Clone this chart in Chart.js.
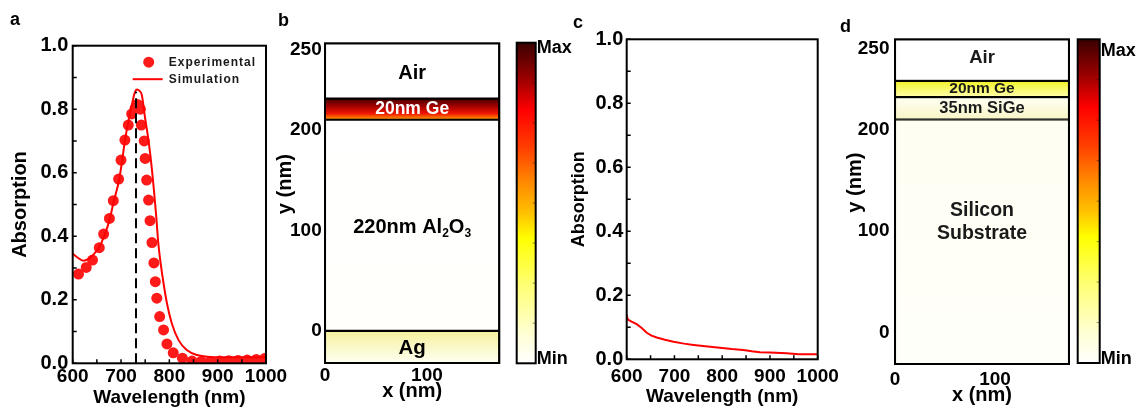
<!DOCTYPE html>
<html>
<head>
<meta charset="utf-8">
<script src="https://cdn.jsdelivr.net/npm/chart.js@4.4.1/dist/chart.umd.min.js"></script>
<style>
  html, body { margin: 0; padding: 0; background: #fff; }
  #fig { position: relative; width: 1145px; height: 409px; overflow: hidden; font-family: "Liberation Sans", Arial, sans-serif; }
  #fig canvas { position: absolute; top: 0; }
  .tag { position: absolute; font-weight: bold; font-size: 18px; line-height: 1; color: #000; }
</style>
</head>
<body>
<div id="fig">
  <canvas id="pa" width="300" height="409" style="left:0px"></canvas>
  <canvas id="pc" width="305" height="409" style="left:555px"></canvas>
  <canvas id="pb" width="310" height="409" style="left:270px"></canvas>
  <canvas id="pd" width="305" height="409" style="left:840px"></canvas>
  <div class="tag" style="left:10px;top:10px">a</div>
  <div class="tag" style="left:278px;top:11px">b</div>
  <div class="tag" style="left:573px;top:13px">c</div>
  <div class="tag" style="left:840px;top:17px">d</div>
</div>
<script>
const FONT = '"Liberation Sans", Arial, sans-serif';

// panel a - measured absorption (dots)
const expWl  = [612, 628, 641, 655, 664, 676, 684, 695, 700, 708, 715, 722, 729, 734, 740, 742, 748, 750, 753, 757, 760, 764, 768, 771, 774, 780, 788, 795, 808, 827, 847, 866, 885, 904, 923, 942, 961, 980, 997];
const expAbs = [0.281, 0.302, 0.325, 0.364, 0.407, 0.456, 0.512, 0.58, 0.64, 0.703, 0.75, 0.785, 0.803, 0.815, 0.80, 0.75, 0.70, 0.645, 0.577, 0.514, 0.449, 0.38, 0.316, 0.257, 0.205, 0.147, 0.105, 0.061, 0.033, 0.016, 0.007, 0.006, 0.006, 0.007, 0.008, 0.009, 0.010, 0.012, 0.015];

// panel a - simulated absorption (line)
const simWl  = [600, 610, 622, 632, 643, 655, 665, 676, 685, 696, 702, 708, 715, 722, 728, 733, 738, 743, 750, 757, 764, 769, 773, 777, 782, 788, 795, 805, 819, 836, 857, 878, 912, 950, 1000];
const simAbs = [0.345, 0.333, 0.323, 0.328, 0.342, 0.366, 0.40, 0.45, 0.51, 0.577, 0.635, 0.70, 0.76, 0.81, 0.85, 0.862, 0.858, 0.845, 0.77, 0.70, 0.61, 0.53, 0.46, 0.38, 0.315, 0.252, 0.189, 0.126, 0.073, 0.042, 0.026, 0.021, 0.019, 0.019, 0.019];

// resonance marker
const peakWl = 731;
const peakAbs = 0.855;

// panel c - absorption without the cavity
const refWl  = [600, 602, 610, 621, 632, 642, 652, 663, 680, 698, 720, 740, 770, 795, 820, 844, 862, 879, 900, 935, 960, 1000];
const refAbs = [0.139, 0.125, 0.118, 0.11, 0.097, 0.083, 0.074, 0.068, 0.061, 0.055, 0.049, 0.045, 0.04, 0.036, 0.032, 0.029, 0.025, 0.022, 0.021, 0.019, 0.016, 0.016];

// panel b - layer stack (nm)
const stackB   = ['Ag', '220nm Al_2O_3', '20nm Ge', 'Air'];
const stackBLo = [-32, 0, 210, 231];
const stackBHi = [0, 210, 231, 286];
const xMaxB = 171;

// panel d - layer stack (nm)
const stackD   = ['Silicon\nSubstrate', '35nm SiGe', '20nm Ge', 'Air'];
const stackDLo = [-31, 210, 232, 248];
const stackDHi = [210, 232, 248, 289];
const xMaxD = 174;

// ticks of the field maps, as printed
const mapXTicks     = [0, 100];
const mapTickVals   = [0, 100, 200, 280];
const mapTickLabels = ['0', '100', '200', '250'];

// colours
const fillsB = [
  [[0, '#f5f19c'], [1, '#fffff2']],
  [[0, '#ffffff'], [1, '#fffffb']],
  [[0, '#440000'], [0.35, '#a00000'], [0.7, '#f01400'], [1, '#ffa000']],
  [[0, '#ffffff'], [1, '#ffffff']]
];
const fillsD = [
  [[0, '#fffef2'], [1, '#fffffa']],
  [[0, '#fffff4'], [1, '#f8f5c6']],
  [[0, '#f2f228'], [1, '#ffffac']],
  [[0, '#ffffff'], [1, '#ffffff']]
];
const cbStops = [[0, '#3a0000'], [0.11, '#990000'], [0.21, '#ff0000'], [0.33, '#ff4000'], [0.44, '#ff8c00'], [0.53, '#ffc000'], [0.61, '#ffff00'], [0.75, '#ffff70'], [0.9, '#ffffd0'], [1, '#ffffff']];

function pts(xs, ys) { return xs.map((x, i) => ({ x: x, y: ys[i] })); }
function bold(size) { return { family: FONT, weight: 'bold', size: size }; }

// box round the plot + inward ticks
const framePlugin = {
  id: 'frame',
  afterDraw(chart) {
    const { ctx, chartArea: a, scales } = chart;
    ctx.save();
    ctx.strokeStyle = '#000';
    ctx.lineWidth = 1.5;
    ctx.beginPath();
    scales.x.ticks.forEach(t => {
      const px = scales.x.getPixelForValue(t.value);
      ctx.moveTo(px, a.bottom); ctx.lineTo(px, a.bottom - 4);
    });
    scales.y.ticks.forEach(t => {
      const py = scales.y.getPixelForValue(t.value);
      ctx.moveTo(a.left, py); ctx.lineTo(a.left + 4, py);
    });
    ctx.stroke();
    ctx.lineWidth = 2;
    ctx.strokeRect(a.left, a.top, a.right - a.left, a.bottom - a.top);
    ctx.restore();
  }
};

const legendA = {
  id: 'legendA',
  afterDraw(chart) {
    const { ctx, chartArea: a } = chart;
    ctx.save();
    ctx.fillStyle = '#ff1a1a';
    ctx.beginPath();
    ctx.arc(a.left + 76, a.top + 16.5, 5.5, 0, Math.PI * 2);
    ctx.fill();
    ctx.strokeStyle = '#ff0000';
    ctx.lineWidth = 2;
    ctx.beginPath();
    ctx.moveTo(a.left + 60, a.top + 33.5); ctx.lineTo(a.left + 90, a.top + 33.5);
    ctx.stroke();
    ctx.fillStyle = '#1a1a1a';
    ctx.font = 'bold 12px ' + FONT;
    ctx.letterSpacing = '1px';
    ctx.textBaseline = 'middle';
    ctx.fillText('Experimental', a.left + 96, a.top + 16.5);
    ctx.fillText('Simulation', a.left + 96, a.top + 33.5);
    ctx.restore();
  }
};

function lineOpts(o) {
  return {
    responsive: false, animation: false, devicePixelRatio: 1,
    layout: { padding: { left: 0, right: o.padR, top: o.padT, bottom: 0 } },
    plugins: { legend: { display: false }, tooltip: { enabled: false } },
    scales: {
      x: {
        type: 'linear', min: 600, max: 1000,
        grid: { display: false, drawTicks: false }, border: { display: false },
        ticks: { stepSize: 50, autoSkip: false, maxRotation: 0, padding: o.xPad, color: '#000', font: bold(19),
                 callback: v => (v % 100 === 0 ? v : '') },
        title: { display: true, text: 'Wavelength (nm)', color: '#000', font: bold(19), padding: { top: 0, bottom: o.xTitlePad } },
        afterFit: s => { s.height = o.xH; s.paddingLeft = 0; s.paddingRight = 0; }
      },
      y: {
        min: 0, max: 1,
        grid: { display: false, drawTicks: false }, border: { display: false },
        ticks: { stepSize: 0.1, autoSkip: false, padding: o.yPad, color: '#000', font: bold(20),
                 callback: v => { const k = Math.round(v * 10); return k % 2 === 0 ? (k / 10).toFixed(1) : ''; } },
        title: { display: true, text: 'Absorption', color: '#000', font: bold(o.yTitleSize), padding: { top: o.yTitlePad, bottom: 0 } },
        afterFit: s => { s.width = o.yW; s.paddingTop = 0; s.paddingBottom = 0; }
      }
    }
  };
}

// panel a
new Chart(document.getElementById('pa'), {
  type: 'scatter',
  data: {
    datasets: [
      { label: 'peak', data: [{ x: peakWl, y: 0 }, { x: peakWl, y: peakAbs }], showLine: true, pointRadius: 0,
        borderColor: '#000', borderWidth: 2, borderDash: [10, 5] },
      { label: 'Simulation', data: pts(simWl, simAbs), showLine: true, pointRadius: 0,
        borderColor: '#ff0000', borderWidth: 2, cubicInterpolationMode: 'monotone' },
      { label: 'Experimental', data: pts(expWl, expAbs), pointRadius: 5.5, pointBorderWidth: 0,
        backgroundColor: '#ff1a1a', borderColor: '#ff1a1a' }
    ]
  },
  options: lineOpts({ padR: 34, padT: 45.7, xH: 45.7, xPad: 2, xTitlePad: 0, yW: 72.7, yPad: 4.4, yTitleSize: 20, yTitlePad: 8 }),
  plugins: [framePlugin, legendA]
});

// panel c
new Chart(document.getElementById('pc'), {
  type: 'scatter',
  data: {
    datasets: [
      { label: 'Absorption', data: pts(refWl, refAbs), showLine: true, pointRadius: 0,
        borderColor: '#ff0000', borderWidth: 2 }
    ]
  },
  options: lineOpts({ padR: 42.3, padT: 39.3, xH: 49.7, xPad: 6, xTitlePad: 1, yW: 71.7, yPad: 3.4, yTitleSize: 18, yTitlePad: 13 }),
  plugins: [framePlugin]
});

// field maps
function layerFill(c, stops, lo, hi) {
  const chart = c.chart;
  const y = chart.scales.y;
  if (!chart.chartArea || !y) return stops[0][1];
  const g = chart.ctx.createLinearGradient(0, y.getPixelForValue(hi), 0, y.getPixelForValue(lo));
  stops.forEach(s => g.addColorStop(s[0], s[1]));
  return g;
}

function drawRich(ctx, text, xc, yc, size) {
  // "_d" means subscript d
  const parts = [];
  for (let i = 0; i < text.length; i++) {
    if (text[i] === '_') parts.push({ t: text[++i], sub: true });
    else if (parts.length && !parts[parts.length - 1].sub) parts[parts.length - 1].t += text[i];
    else parts.push({ t: text[i], sub: false });
  }
  const big = 'bold ' + size + 'px ' + FONT;
  const small = 'bold ' + Math.round(size * 0.62) + 'px ' + FONT;
  let w = 0;
  parts.forEach(p => { ctx.font = p.sub ? small : big; p.w = ctx.measureText(p.t).width; w += p.w; });
  let x = xc - w / 2;
  parts.forEach(p => {
    ctx.font = p.sub ? small : big;
    ctx.fillText(p.t, x, p.sub ? yc + size * 0.3 : yc);
    x += p.w;
  });
}

function mapPlugin(names, lo, hi, look) {
  return {
    id: 'map',
    afterDraw(chart) {
      const { ctx, chartArea: a, scales: { y } } = chart;
      ctx.save();
      ctx.textAlign = 'left';
      ctx.textBaseline = 'middle';
      names.forEach((name, i) => {
        const yc = (y.getPixelForValue(lo[i]) + y.getPixelForValue(hi[i])) / 2 + look.shift[i];
        ctx.fillStyle = look.colors[i];
        const lines = name.split('\n');
        lines.forEach((ln, k) => {
          drawRich(ctx, ln, (a.left + a.right) / 2, yc + (k - (lines.length - 1) / 2) * 23, look.sizes[i]);
        });
      });
      ctx.strokeStyle = '#000';
      ctx.lineWidth = 2;
      ctx.strokeRect(a.left, a.top, a.right - a.left, a.bottom - a.top);

      // axis title, set a little above the middle as in the figure
      ctx.save();
      ctx.translate(15.5, (a.top + a.bottom) / 2 - 19);
      ctx.rotate(-Math.PI / 2);
      ctx.textAlign = 'center';
      ctx.fillStyle = '#000';
      ctx.font = 'bold 20px ' + FONT;
      ctx.fillText('y (nm)', 0, 0);
      ctx.restore();

      // colour bar
      const cx = a.right + look.cbGap, cw = look.cbW;
      const ct = a.top + look.cbTop, cb = a.bottom + look.cbBottom;
      const g = ctx.createLinearGradient(0, ct, 0, cb);
      cbStops.forEach(s => g.addColorStop(s[0], s[1]));
      ctx.fillStyle = g;
      ctx.fillRect(cx, ct, cw, cb - ct);
      ctx.lineWidth = 1;
      ctx.strokeStyle = 'rgba(0,0,0,0.45)';
      ctx.beginPath();
      for (let k = 1; k < 8; k++) {
        const ty = ct + (cb - ct) * k / 8;
        ctx.moveTo(cx + cw - 3, ty); ctx.lineTo(cx + cw, ty);
      }
      ctx.stroke();
      ctx.lineWidth = 2;
      ctx.strokeStyle = '#000';
      ctx.strokeRect(cx, ct, cw, cb - ct);
      ctx.fillStyle = '#000';
      ctx.textAlign = 'left';
      ctx.font = 'bold 18px ' + FONT;
      ctx.fillText('Max', cx + cw + 1, ct + look.maxDy);
      ctx.fillText('Min', cx + cw + 1, cb - 4);
      ctx.restore();
    }
  };
}

function layerChart(id, names, lo, hi, fills, xMax, o, look) {
  return new Chart(document.getElementById(id), {
    type: 'bar',
    data: {
      labels: [''],
      datasets: names.map((n, i) => ({
        label: n,
        data: [[lo[i], hi[i]]],
        backgroundColor: c => layerFill(c, fills[i], lo[i], hi[i]),
        borderColor: '#000',
        borderWidth: 1.4,
        borderSkipped: false,
        grouped: false,
        barPercentage: 1,
        categoryPercentage: 1
      }))
    },
    options: {
      responsive: false, animation: false, devicePixelRatio: 1,
      layout: { padding: { left: 0, right: o.padR, top: o.padT, bottom: 0 } },
      plugins: { legend: { display: false }, tooltip: { enabled: false } },
      scales: {
        x: { display: false },
        xb: {
          type: 'linear', position: 'bottom', min: 0, max: xMax, offset: false,
          grid: { display: false, drawTicks: false, offset: false }, border: { display: false },
          afterBuildTicks: s => { s.ticks = mapXTicks.map(v => ({ value: v })); },
          ticks: { autoSkip: false, maxRotation: 0, padding: o.xPad, color: '#000', font: bold(19) },
          title: { display: true, text: 'x (nm)', color: '#000', font: bold(20), padding: { top: 0, bottom: o.xTitlePad } },
          afterFit: s => { s.height = o.xH; s.paddingLeft = 0; s.paddingRight = 0; }
        },
        y: {
          min: lo[0], max: hi[hi.length - 1],
          grid: { display: false, drawTicks: false }, border: { display: false },
          afterBuildTicks: s => { s.ticks = mapTickVals.map(v => ({ value: v })); },
          ticks: { autoSkip: false, padding: o.yPad, color: '#000', font: bold(19), callback: (v, i) => mapTickLabels[i] },
          title: { display: false },
          afterFit: s => { s.width = 55; s.paddingTop = 0; s.paddingBottom = 0; }
        }
      }
    },
    plugins: [mapPlugin(names, lo, hi, look)]
  });
}

layerChart('pb', stackB, stackBLo, stackBHi, fillsB, xMaxB,
  { padR: 80.7, padT: 43.3, xH: 46, xPad: 1, xTitlePad: 6, yPad: 3.3 },
  { sizes: [20.5, 20, 17.5, 20], colors: ['#000', '#000', '#fff', '#000'], shift: [1, 2, 0, 3],
    cbGap: 17.4, cbW: 19, cbTop: -0.6, cbBottom: 0.3, maxDy: 5 });

layerChart('pd', stackD, stackDLo, stackDHi, fillsD, xMaxD,
  { padR: 76, padT: 39.3, xH: 45, xPad: 4.6, xTitlePad: 2, yPad: 5.5 },
  { sizes: [19.5, 16.5, 15.5, 18.5], colors: ['#1a1a1a', '#1a1a1a', '#1a1a1a', '#1a1a1a'], shift: [-20, 0, 0, -2],
    cbGap: 8.7, cbW: 22, cbTop: 0, cbBottom: -1, maxDy: 12 });
</script>
</body>
</html>
